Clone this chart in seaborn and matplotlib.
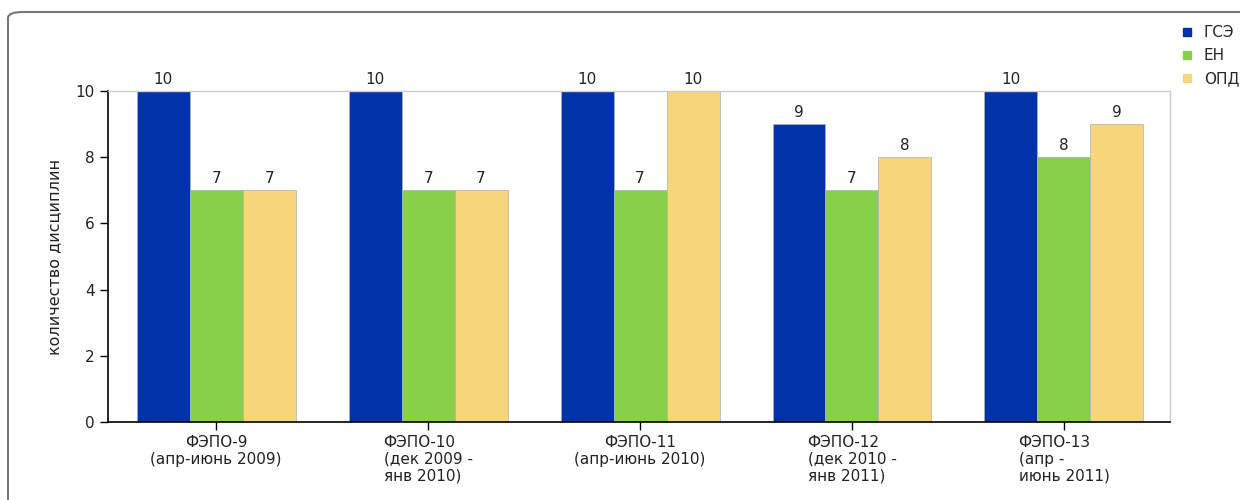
import pandas as pd
import matplotlib.pyplot as plt
import seaborn as sns
from matplotlib.lines import Line2D
from matplotlib.patches import FancyBboxPatch

# Данные
sessions = ["ФЭПО-9\n(апр-июнь 2009)", "ФЭПО-10\n(дек 2009 -\nянв 2010)",
            "ФЭПО-11\n(апр-июнь 2010)", "ФЭПО-12\n(дек 2010 -\nянв 2011)",
            "ФЭПО-13\n(апр -\nиюнь 2011)"]
blocks = ["ГСЭ", "ЕН", "ОПД"]
gse = [10, 10, 10, 9, 10]
en = [7, 7, 7, 7, 8]
opd = [7, 7, 10, 8, 9]
colors = ["#0033AA", "#88D04A", "#F7D57A"]

rows = []
for block, vals in zip(blocks, [gse, en, opd]):
    for s, v in zip(sessions, vals):
        rows.append({"session": s, "block": block, "value": v})
df = pd.DataFrame(rows)

sns.set_theme(style="white")
plt.rcParams["font.family"] = ["DejaVu Sans"]

fig = plt.figure(figsize=(12.4, 5), dpi=100)
ax = fig.add_axes([0.0871, 0.156, 0.8564, 0.662])

sns.barplot(data=df, x="session", y="value", hue="block", palette=colors,
            width=0.75, edgecolor="#b0b0b0", linewidth=0.5, ax=ax,
            legend=False, saturation=1)

for cont in ax.containers:
    ax.bar_label(cont, fmt="%d", padding=3, fontsize=11, color="#222222")

ax.set_ylim(0, 10)
ax.set_xlim(-0.51, 4.5)
ax.set_yticks(range(0, 11, 2))
ax.set_ylabel("количество дисциплин", fontsize=11.5, color="#222222", labelpad=10)
ax.set_xlabel("")
ax.tick_params(axis="both", direction="out", length=6, width=1, color="black",
               labelsize=11, labelcolor="#222222", left=True, bottom=True)

# подписи категорий
ax.set_xticks(range(len(sessions)))
ax.set_xticklabels(sessions)
for lab in ax.get_xticklabels():
    lab.set_linespacing(1.15)
    if lab.get_text().count("\n") >= 2:
        lab.set_multialignment("left")
    else:
        lab.set_multialignment("center")

for side in ["left", "bottom"]:
    ax.spines[side].set_color("black")
    ax.spines[side].set_linewidth(1.2)
for side in ["top", "right"]:
    ax.spines[side].set_color("#cccccc")
    ax.spines[side].set_linewidth(1)

# легенда
handles = [Line2D([0], [0], marker="s", linestyle="", markersize=6,
                  markerfacecolor=c, markeredgecolor=c) for c in colors]
fig.legend(handles, blocks, loc="upper left", bbox_to_anchor=(0.951, 0.95),
           frameon=False, fontsize=11, handletextpad=0.6, labelspacing=0.52,
           handlelength=1.0, borderaxespad=0, borderpad=0)

# рамка
frame = FancyBboxPatch((8 / 1240, -0.2), 1.2, 0.2 + 1 - 12 / 500,
                       boxstyle="round,pad=0,rounding_size=0.012",
                       transform=fig.transFigure, facecolor="none",
                       edgecolor="#777777", linewidth=1.5, clip_on=False)
fig.patches.append(frame)

fig.savefig("out.png", dpi=100)
